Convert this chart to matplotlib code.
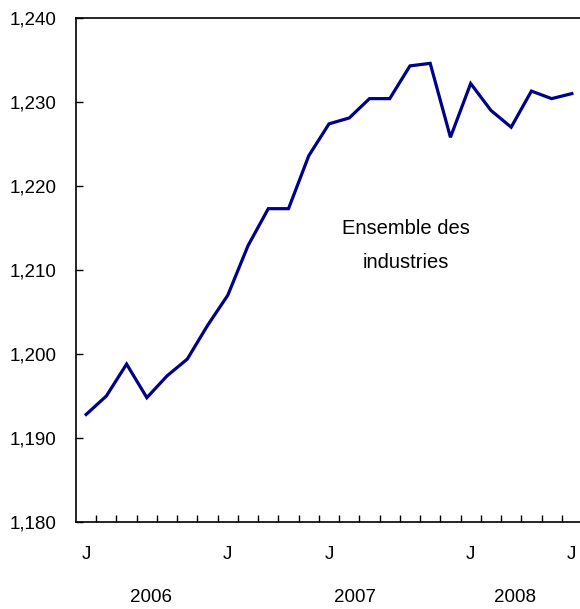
import numpy as np
import matplotlib.pyplot as plt
from matplotlib.ticker import FuncFormatter
import matplotlib.transforms as mtransforms

plt.rcParams['font.family'] = ['Liberation Sans', 'DejaVu Sans']

# monthly values, June 2006 to June 2008 (thousands)
values = [1192.8, 1195.0, 1198.8, 1194.8, 1197.4, 1199.4, 1203.4, 1207.0,
          1212.9, 1217.3, 1217.3, 1223.6, 1227.4, 1228.1, 1230.4, 1230.4,
          1234.3, 1234.6, 1225.8, 1232.2, 1229.0, 1227.0, 1231.3, 1230.4,
          1231.0]
month_labels = ['J', 'J', 'J', 'J', 'J']
month_label_idx = [0, 7, 12, 19, 24]
years = ['2006', '2007', '2008']
year_pos = [3.2, 13.3, 21.2]
series_label = 'Ensemble des\nindustries'

x = np.arange(len(values))

fig = plt.figure(figsize=(5.8, 6.09), dpi=100)
ax = fig.add_axes([76 / 580, 1 - 522 / 609, 506 / 580, 504 / 609])

ax.plot(x, values, color='#000088', lw=2.3, solid_joinstyle='miter')

ax.set_xlim(-0.5, len(values) - 0.5)
ax.set_ylim(1180, 1240)
ax.set_yticks(np.arange(1180, 1241, 10))
ax.yaxis.set_major_formatter(FuncFormatter(lambda v, p: '{:,.0f}'.format(v)))

# month boundaries as ticks, letters between them
ax.set_xticks(np.arange(0.5, len(values) - 0.5, 1))
ax.set_xticklabels([])
ax.set_xticks(month_label_idx, minor=True)
ax.set_xticklabels(month_labels, minor=True)
ax.tick_params(axis='x', which='major', direction='in', length=5, width=1)
ax.tick_params(axis='x', which='minor', length=0, pad=17, labelsize=13.5)
ax.tick_params(axis='y', direction='in', length=5, width=1, pad=14, labelsize=13.5)

trans = mtransforms.blended_transform_factory(ax.transData, ax.transAxes)
for yr, pos in zip(years, year_pos):
    ax.text(pos, -0.15, yr, transform=trans, ha='center', va='center', fontsize=13.5)

ax.text(15.8, 1212.9, series_label, ha='center', va='center', fontsize=14.5,
        linespacing=2.0)

for s in ax.spines.values():
    s.set_linewidth(1.2)

fig.savefig('out.png', dpi=100)
